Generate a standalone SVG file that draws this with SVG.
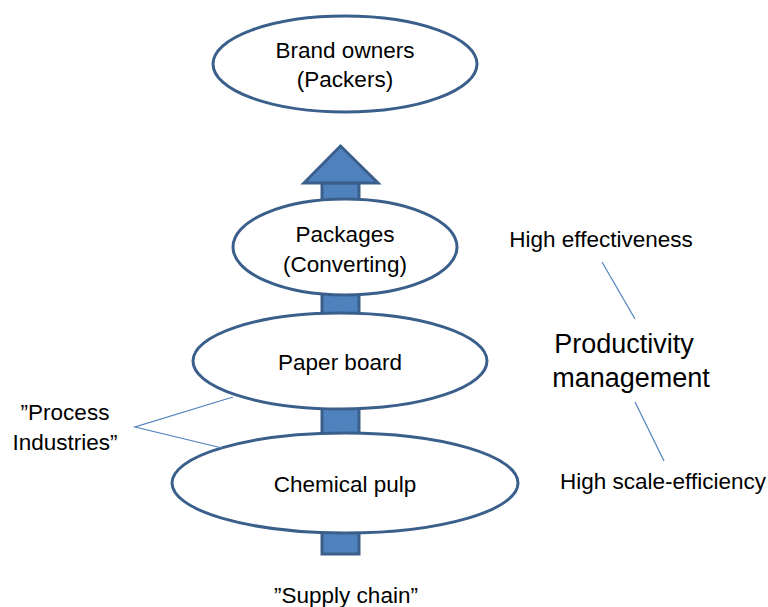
<svg xmlns="http://www.w3.org/2000/svg" width="768" height="607" viewBox="0 0 768 607">
<style>
.node{fill:#ffffff;stroke:#3A5F8B;stroke-width:3}
.arrow{fill:#4F81BD;stroke:#3A5F8B;stroke-width:3;stroke-linejoin:miter}
.lbl{font-family:"Liberation Sans",Arial,sans-serif;font-size:22.5px;fill:#000000;text-anchor:middle}
.big{font-size:27px}
.conn{stroke:#4F81BD;stroke-width:1.2;fill:none}
</style>
<rect width="768" height="607" fill="#ffffff"/>
<g id="flow-arrow">
<rect class="arrow" x="322" y="183" width="37" height="371"/>
<polygon class="arrow" points="340.5,146 378,183 304,183"/>
</g>
<g id="brand-owners">
<ellipse class="node" cx="345" cy="64" rx="132" ry="48"/>
<text class="lbl" x="345" y="58">Brand owners</text>
<text class="lbl" x="345" y="87">(Packers)</text>
</g>
<g id="packages">
<ellipse class="node" cx="345" cy="247" rx="112" ry="48"/>
<text class="lbl" x="345" y="242">Packages</text>
<text class="lbl" x="345" y="272">(Converting)</text>
</g>
<g id="paper-board">
<ellipse class="node" cx="340" cy="361" rx="147" ry="48"/>
<text class="lbl" x="340" y="370">Paper board</text>
</g>
<g id="chemical-pulp">
<ellipse class="node" cx="345" cy="483" rx="173" ry="50"/>
<text class="lbl" x="345" y="492">Chemical pulp</text>
</g>
<g id="connectors">
<polyline class="conn" points="233,397 135,427 222,448"/>
<line class="conn" x1="602" y1="262" x2="635" y2="319"/>
<line class="conn" x1="635" y1="402" x2="664" y2="461"/>
</g>
<g id="process-industries">
<text class="lbl" x="65" y="420">”Process</text>
<text class="lbl" x="65" y="450">Industries”</text>
</g>
<g id="supply-chain">
<text class="lbl" x="346" y="603">”Supply chain”</text>
</g>
<g id="high-effectiveness">
<text class="lbl" x="601" y="247">High effectiveness</text>
</g>
<g id="productivity-management">
<text class="lbl big" x="624" y="353">Productivity</text>
<text class="lbl big" x="631" y="387">management</text>
</g>
<g id="high-scale-efficiency">
<text class="lbl" x="663" y="489">High scale-efficiency</text>
</g>
</svg>
